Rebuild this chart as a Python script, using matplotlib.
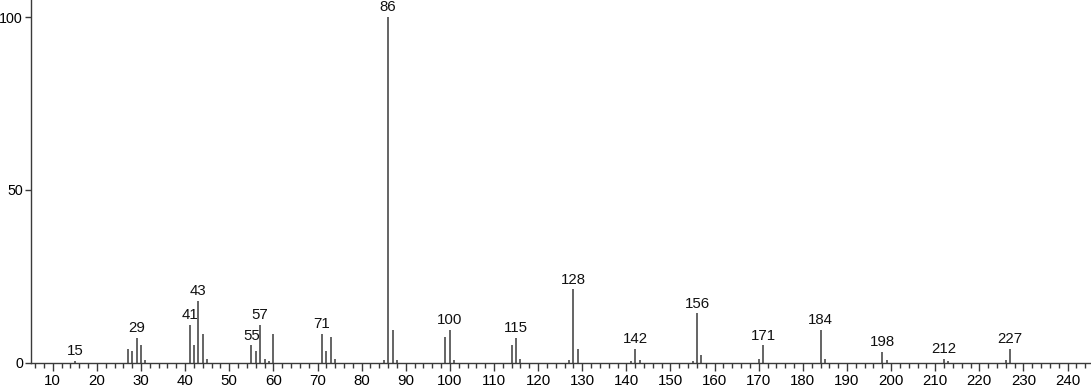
import matplotlib
matplotlib.use('Agg')
import matplotlib.pyplot as plt
from matplotlib.ticker import MultipleLocator

# m/z and relative intensity
mz = [15, 27, 28, 29, 30, 31, 41, 42, 43, 44, 45, 55, 56, 57, 58, 59, 60,
      71, 72, 73, 74, 85, 86, 87, 88, 99, 100, 101, 114, 115, 116,
      127, 128, 129, 141, 142, 143, 155, 156, 157, 170, 171,
      184, 185, 198, 199, 212, 213, 226, 227]
intensity = [0.5, 3.9, 3.3, 7.2, 5.0, 0.7, 11.0, 5.0, 18.0, 8.3, 1.2, 5.0, 3.3, 11.0, 1.2, 0.6, 8.3,
             8.3, 3.3, 7.3, 1.0, 0.7, 100.0, 9.4, 0.7, 7.3, 9.4, 0.9, 5.0, 7.2, 1.0,
             0.7, 21.2, 3.9, 0.6, 3.9, 0.9, 0.6, 14.3, 2.1, 1.0, 5.0,
             9.4, 1.1, 3.1, 0.7, 1.0, 0.5, 0.7, 3.9]
labeled = [15, 29, 41, 43, 55, 57, 71, 86, 100, 115, 128, 142, 156, 171, 184, 198, 212, 227]

plt.rcParams['font.family'] = ['Liberation Sans', 'DejaVu Sans']
fig = plt.figure(figsize=(10.91, 3.87), dpi=100)
ax = fig.add_axes([30.7 / 1091, (387 - 362.7) / 387, 1 - 30.7 / 1091, 362.7 / 387])

color = '#3a3a3a'
ax.vlines(mz, 0, intensity, color=color, linewidth=1.1)
for m, h in zip(mz, intensity):
    if m in labeled:
        ax.annotate(str(m), (m, h), xytext=(0, 2), textcoords='offset points',
                    ha='center', va='bottom', fontsize=10.8, color='#111111')

ax.set_xlim(5, 245.3)
ax.set_ylim(0, 105)
ax.xaxis.set_minor_locator(MultipleLocator(2))
ax.set_xticks(range(10, 241, 10))
ax.set_yticks([0, 50, 100])
ax.tick_params(axis='x', which='major', direction='out', length=6, width=1,
               color=color, labelsize=10.8, pad=2)
ax.tick_params(axis='y', which='major', direction='out', length=4.5, width=1,
               color=color, labelsize=10.3, pad=1)
ax.tick_params(axis='x', which='minor', direction='out', length=3.5, width=1, color=color)
for s in ['top', 'right']:
    ax.spines[s].set_visible(False)
for s in ['left', 'bottom']:
    ax.spines[s].set_color(color)
    ax.spines[s].set_linewidth(1)

fig.savefig('out.png', dpi=100)
